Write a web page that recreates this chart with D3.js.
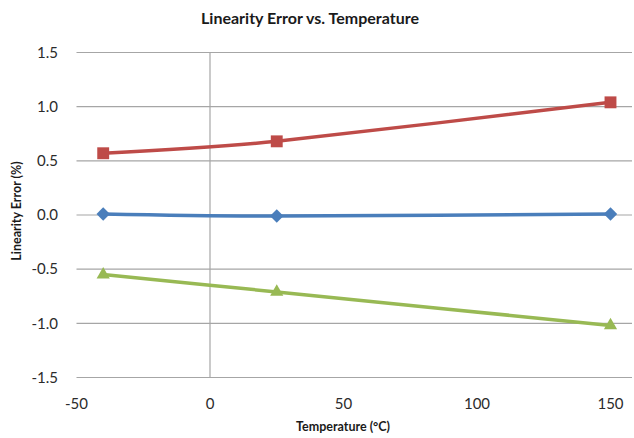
<!DOCTYPE html>
<html><head><meta charset="utf-8">
<script src="https://cdn.jsdelivr.net/npm/d3@7"></script>
<style>body{margin:0;background:#fff}svg{display:block}text{font-family:Lato,"Open Sans",sans-serif}</style>
</head><body><svg id="c" width="634" height="438"></svg>
<script>
const temps = [-40, 25, 150];
const seriesBlue = [0.01, -0.01, 0.01];
const seriesRed = [0.57, 0.68, 1.04];
const seriesGreen = [-0.55, -0.71, -1.02];
const xTicks = [-50, 0, 50, 100, 150];
const yTicks = [-1.5, -1.0, -0.5, 0.0, 0.5, 1.0, 1.5];

const svg = d3.select("#c");
const x = d3.scaleLinear().domain([-50, 150]).range([76.5, 610.5]);
const y = d3.scaleLinear().domain([-1.5, 1.5]).range([377.5, 52.5]);
const right = 632;
const fmt = d3.formatLocale({decimal: ".", thousands: ",", grouping: [3], currency: ["", ""], minus: "-"}).format(".1f");

// gridlines
svg.append("g").selectAll("line").data(yTicks).join("line")
  .attr("x1", x(-50)).attr("x2", right).attr("y1", d => y(d)).attr("y2", d => y(d))
  .attr("stroke", "#a6a6a6").attr("stroke-width", 1.2);
// vertical axis at x=0
svg.append("line").attr("x1", x(0)).attr("x2", x(0)).attr("y1", y(1.5)).attr("y2", y(-1.5))
  .attr("stroke", "#a6a6a6").attr("stroke-width", 1.2);

// tick labels
svg.append("g").selectAll("text").data(yTicks).join("text")
  .attr("x", 58).attr("y", d => y(d)).attr("dy", "0.35em").attr("text-anchor", "end")
  .attr("font-size", 15).attr("fill", "#2b2b2b").text(d => fmt(d));
svg.append("g").selectAll("text").data(xTicks).join("text")
  .attr("x", d => x(d)).attr("y", 409).attr("text-anchor", "middle")
  .attr("font-size", 15).attr("fill", "#2b2b2b").text(d => String(d));

// titles
svg.append("text").attr("x", 310).attr("y", 24).attr("text-anchor", "middle")
  .attr("font-size", 16).attr("font-weight", "bold").attr("fill", "#1a1a1a").text("Linearity Error vs. Temperature");
svg.append("text").attr("x", 343).attr("y", 431).attr("text-anchor", "middle")
  .attr("font-size", 12.5).attr("font-weight", "bold").attr("fill", "#1a1a1a").text("Temperature (°C)");
svg.append("text").attr("transform", "translate(21,211) rotate(-90)").attr("text-anchor", "middle")
  .attr("font-size", 12.5).attr("font-weight", "bold").attr("fill", "#1a1a1a").text("Linearity Error (%)");

const series = [
  {vals: seriesBlue, color: "#4a7ebb", sym: d3.symbolDiamond2, size: 115},
  {vals: seriesRed, color: "#be4b48", sym: d3.symbolSquare2, size: 180},
  {vals: seriesGreen, color: "#98b954", sym: d3.symbolTriangle2, size: 125}
];
const line = d3.line().x(d => x(d[0])).y(d => y(d[1])).curve(d3.curveCardinal.tension(0.3));
series.forEach(s => {
  const pts = temps.map((t, i) => [t, s.vals[i]]);
  svg.append("path").attr("d", line(pts)).attr("fill", "none").attr("stroke", s.color)
    .attr("stroke-width", 3.5).attr("stroke-linejoin", "round");
  svg.append("g").selectAll("path").data(pts).join("path")
    .attr("transform", d => `translate(${x(d[0])},${y(d[1])})`)
    .attr("d", d3.symbol().type(s.sym).size(s.size)).attr("fill", s.color);
});
</script></body></html>
